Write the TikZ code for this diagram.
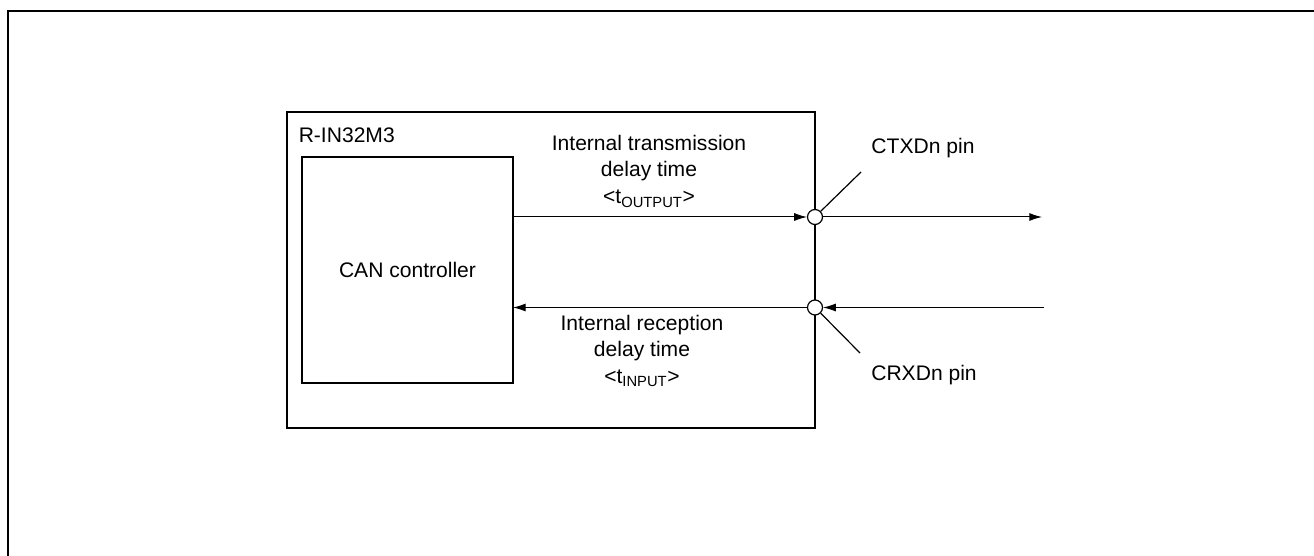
\documentclass[tikz,border=0pt]{standalone}
\usepackage{fontspec}
\setmainfont{Liberation Sans}
\usetikzlibrary{arrows.meta}
\begin{document}
\begin{tikzpicture}[x=0.75pt,y=-0.75pt,
  outerframe/.style={line width=1.5pt},
  blockbox/.style={draw,line width=1.1pt,inner sep=0pt,outer sep=0pt},
  sig/.style={line width=0.75pt,-{Latex[length=9.5pt,width=6pt]}},
  lead/.style={line width=0.9pt},
  pincirc/.style={circle,draw,fill=white,line width=0.9pt,minimum size=11.25pt,inner sep=0pt},
  lbl/.style={font=\fontsize{15.8}{20}\selectfont,inner sep=0pt,align=center}]
\useasboundingbox (0,0) rectangle (1314,556);
\draw[outerframe] (8,556) -- (8,11.5) -- (1314,11.5);
% boxes
\node[blockbox,minimum width=396pt,minimum height=237pt] (chip) at (551,270) {};
\node[blockbox,minimum width=158.25pt,minimum height=169.5pt,lbl] (can) at (407.5,270) {CAN controller};
\node[lbl,anchor=west] (chiplbl) at (298.5,135) {R-IN32M3};
% pins
\coordinate (ctxpos) at (815,217);
\coordinate (crxpos) at (815,307.5);
\node[pincirc] (ctx) at (ctxpos) {};
\node[pincirc] (crx) at (crxpos) {};
% signals
\coordinate (txend) at (1042,217);
\coordinate (rxstart) at (1044,307.5);
\draw[sig] (can.east |- ctx) -- (ctx.west);
\draw[sig] (crx.west) -- (can.east |- crx);
\draw[sig] (ctx.east) -- (txend);
\draw[sig] (rxstart) -- (crx.east);
% leader lines
\coordinate (ctxlead) at (861,172);
\coordinate (crxlead) at (860,353);
\draw[lead] (ctx.45) -- (ctxlead);
\draw[lead] (crx.-45) -- (crxlead);
\node[lbl] (ctxlbl) at (923,148) {CTXDn pin};
\node[lbl] (crxlbl) at (924,375) {CRXDn pin};
% delay labels
\node[lbl] (txlbl) at (649,171) {Internal transmission\\delay time\\<t\textsubscript{OUTPUT}>};
\node[lbl] (rxlbl) at (642,351) {Internal reception\\delay time\\<t\textsubscript{INPUT}>};
\end{tikzpicture}
\end{document}
